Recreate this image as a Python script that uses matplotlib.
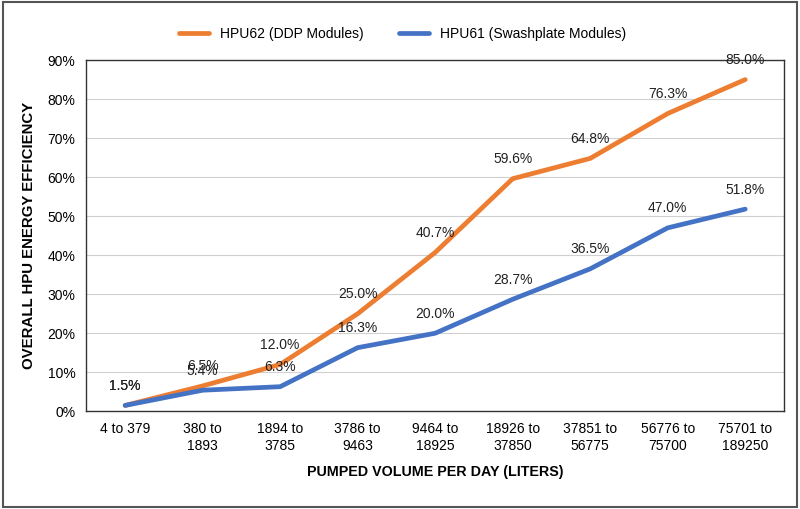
import numpy as np
import matplotlib.pyplot as plt
from matplotlib.patches import Rectangle

plt.rcParams['font.family'] = ['Liberation Sans Narrow', 'Liberation Sans', 'DejaVu Sans']

cats = ['4 to 379', '380 to\n1893', '1894 to\n3785', '3786 to\n9463', '9464 to\n18925',
        '18926 to\n37850', '37851 to\n56775', '56776 to\n75700', '75701 to\n189250']
hpu62 = [1.5, 6.5, 12.0, 25.0, 40.7, 59.6, 64.8, 76.3, 85.0]
hpu61 = [1.5, 5.4, 6.3, 16.3, 20.0, 28.7, 36.5, 47.0, 51.8]

fig = plt.figure(figsize=(8, 5.09), dpi=100)
ax = fig.add_axes([0.108, 0.192, 0.872, 0.69])
xs = np.arange(len(cats))

ax.plot(xs, hpu62, color='#ED7D31', lw=3.4, label='HPU62 (DDP Modules)', solid_capstyle='round', zorder=3)
ax.plot(xs, hpu61, color='#4472C4', lw=3.4, label='HPU61 (Swashplate Modules)', solid_capstyle='round', zorder=3)

for x, v in zip(xs, hpu62):
    ax.annotate(f'{v:.1f}%', (x, v), xytext=(0, 9), textcoords='offset points',
                ha='center', va='bottom', fontsize=10, color='#222222')
for x, v in zip(xs, hpu61):
    ax.annotate(f'{v:.1f}%', (x, v), xytext=(0, 9), textcoords='offset points',
                ha='center', va='bottom', fontsize=10, color='#222222')

ax.set_xlim(-0.5, len(cats) - 0.5)
ax.set_ylim(0, 90)
ax.set_yticks(np.arange(0, 91, 10))
ax.set_yticklabels([f'{t}%' for t in range(0, 91, 10)], fontsize=10)
ax.set_xticks(xs)
ax.set_xticklabels(cats, fontsize=10)
ax.tick_params(length=0, pad=8)
ax.yaxis.grid(True, color='#d0d0d0', lw=0.8)
ax.set_axisbelow(True)
for s in ax.spines.values():
    s.set_color('#333333')
    s.set_linewidth(1.0)

ax.set_xlabel('PUMPED VOLUME PER DAY (LITERS)', fontsize=10.3, fontweight='bold', labelpad=9)
ax.set_ylabel('OVERALL HPU ENERGY EFFICIENCY', fontsize=10.8, fontweight='bold', labelpad=8)

ax.legend(loc='lower center', bbox_to_anchor=(0.453, 1.02), ncol=2, frameon=False,
          fontsize=10, handlelength=2.2, columnspacing=2.5)

fig.patches.append(Rectangle((0.004, 0.004), 0.992, 0.992, transform=fig.transFigure,
                             fill=False, edgecolor='#555555', lw=1.5))

fig.savefig('out.png', dpi=100)
